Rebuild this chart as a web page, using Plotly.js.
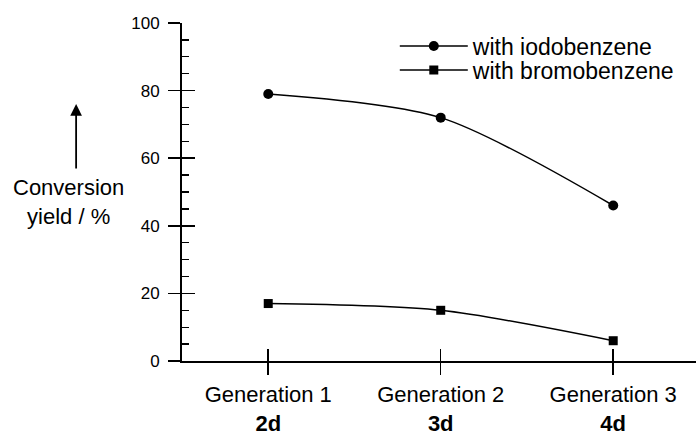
<!DOCTYPE html>
<html><head><meta charset="utf-8">
<script src="https://cdn.plot.ly/plotly-3.0.1.min.js"></script>
<style>body{margin:0;background:#fff}#c{width:696px;height:437px}</style>
</head><body><div id="c"></div>
<script>
const categories = ["Generation 1<br><b>2d</b>", "Generation 2<br><b>3d</b>", "Generation 3<br><b>4d</b>"];
const iodoValues = [79, 72, 46];
const bromoValues = [17, 15, 6];
const seriesNames = ["with iodobenzene", "with bromobenzene"];
const xIdx = [0, 1, 2];
const yTicks = [0, 20, 40, 60, 80, 100];
const yMinorTicks = [5, 10, 15, 25, 30, 35, 45, 50, 55, 65, 70, 75, 85, 90, 95];

const fam = "Liberation Sans, Arial, sans-serif";
const f = (s) => ({family: fam, size: s, color: "#000"});

const traces = [
  {x: xIdx, y: iodoValues, name: seriesNames[0], mode: "lines+markers", legend: "legend",
   line: {color: "#000", width: 1.5, shape: "spline", smoothing: 0.8},
   marker: {symbol: "circle", size: 10, color: "#000"}},
  {x: xIdx, y: bromoValues, name: seriesNames[1], mode: "lines+markers", legend: "legend2",
   line: {color: "#000", width: 1.5, shape: "spline", smoothing: 0.8},
   marker: {symbol: "square", size: 9, color: "#000"}},
  {x: xIdx, y: [null, null, null], xaxis: "x2", yaxis: "y2", showlegend: false, hoverinfo: "skip", mode: "lines"}
];

const legendBase = {x: 0.414, xanchor: "left", yanchor: "middle", bgcolor: "rgba(0,0,0,0)",
                    font: f(23), itemwidth: 68};

const layout = {
  width: 696, height: 437,
  margin: {l: 182, r: 0, t: 23, b: 76},
  paper_bgcolor: "#fff", plot_bgcolor: "#fff",
  font: f(22),
  showlegend: true,
  legend: Object.assign({y: 0.932}, legendBase),
  legend2: Object.assign({y: 0.861}, legendBase),
  xaxis: {range: [-0.5, 2.48], tickvals: xIdx, ticktext: categories, showgrid: false, zeroline: false,
          showline: true, linecolor: "#000", linewidth: 1.5, ticks: "outside", ticklen: 12, tickwidth: 1.5,
          tickcolor: "#000", tickfont: f(22), ticklabelstandoff: 1, anchor: "y"},
  yaxis: {range: [0, 100], tickvals: yTicks, showgrid: false, zeroline: false,
          showline: true, linecolor: "#000", linewidth: 2, ticks: "outside", ticklen: 12, tickwidth: 1.5,
          tickcolor: "#000", tickfont: f(17), ticklabelstandoff: 5,
          minor: {tickvals: yMinorTicks, ticks: "inside", ticklen: 7, tickwidth: 1.3, tickcolor: "#000"}},
  xaxis2: {range: [-0.5, 2.48], overlaying: "x", anchor: "y2", tickvals: xIdx, showticklabels: false,
           ticks: "inside", ticklen: 12, tickwidth: 1.5, tickcolor: "#000", showgrid: false, zeroline: false, showline: false},
  yaxis2: {range: [0, 100], overlaying: "y", anchor: "x2", tickvals: yTicks, showticklabels: false,
           ticks: "inside", ticklen: 13, tickwidth: 1.5, tickcolor: "#000", showgrid: false, zeroline: false, showline: false},
  annotations: [
    {xref: "paper", yref: "paper", x: -0.206, y: 0.76, ax: 0, ay: 66, showarrow: true, arrowhead: 2,
     arrowsize: 1.3, arrowwidth: 1.8, arrowcolor: "#000", text: ""},
    {xref: "paper", yref: "paper", x: -0.221, y: 0.555, xanchor: "center", yanchor: "top", showarrow: false,
     text: "Conversion<br>yield / %", align: "center", font: f(22)}
  ]
};
Plotly.newPlot("c", traces, layout, {displayModeBar: false, staticPlot: true});
</script></body></html>
